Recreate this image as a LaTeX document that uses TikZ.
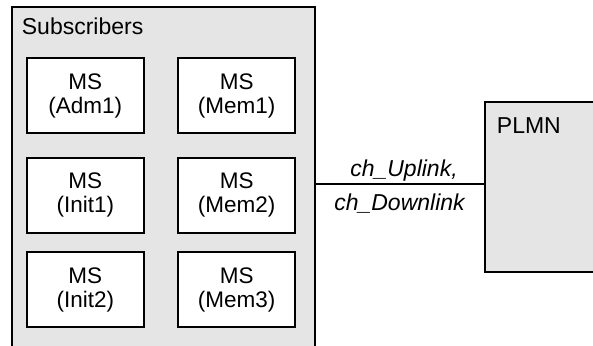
\documentclass[tikz,border=0pt]{standalone}
\usepackage{fontspec}
\setmainfont{Liberation Sans}
\definecolor{panel}{RGB}{229,229,229}
\begin{document}
\begin{tikzpicture}[x=1pt,y=-1pt,
  frame/.style={draw=black,line width=2pt,inner sep=0pt,outer sep=0pt},
  msbox/.style={frame,fill=white,minimum width=117.5pt,minimum height=75pt,
    align=center,font=\fontsize{22.5}{24}\selectfont},
  title/.style={anchor=base west,inner sep=0pt,font=\fontsize{23}{24}\selectfont},
  chan/.style={anchor=base,inner sep=0pt,font=\fontsize{23}{24}\selectfont\itshape}]
\useasboundingbox (0,0) rectangle (593,345);

% subscriber group, open towards the bottom of the page
\node[frame,fill=panel,anchor=north west,minimum width=303.5pt,minimum height=350pt] (subs) at (11.5,7) {};
\node[title] (subslabel) at (21.7,34.5) {Subscribers};

% mobile stations
\node[msbox] (adm1)  at (85.3,95.5)  {MS\\(Adm1)};
\node[msbox] (mem1)  at (236.7,95.5) {MS\\(Mem1)};
\node[msbox] (init1) at (85.3,195.2) {MS\\(Init1)};
\node[msbox] (mem2)  at (236.7,195.2) {MS\\(Mem2)};
\node[msbox] (init2) at (85.3,289.8) {MS\\(Init2)};
\node[msbox] (mem3)  at (236.7,289.8) {MS\\(Mem3)};

% network
\node[frame,fill=panel,anchor=north west,minimum width=120pt,minimum height=170pt] (plmn) at (484.5,101.7) {};
\node[title] (plmnlabel) at (496.7,133) {PLMN};

% channels between subscribers and network
\coordinate (lk) at (400,184);
\draw[line width=2pt] (subs.east |- lk) -- (plmn.west |- lk);
\node[chan] (up)   at (404,176)   {ch\_Uplink,};
\node[chan] (down) at (399.5,210) {ch\_Downlink};
\end{tikzpicture}
\end{document}
